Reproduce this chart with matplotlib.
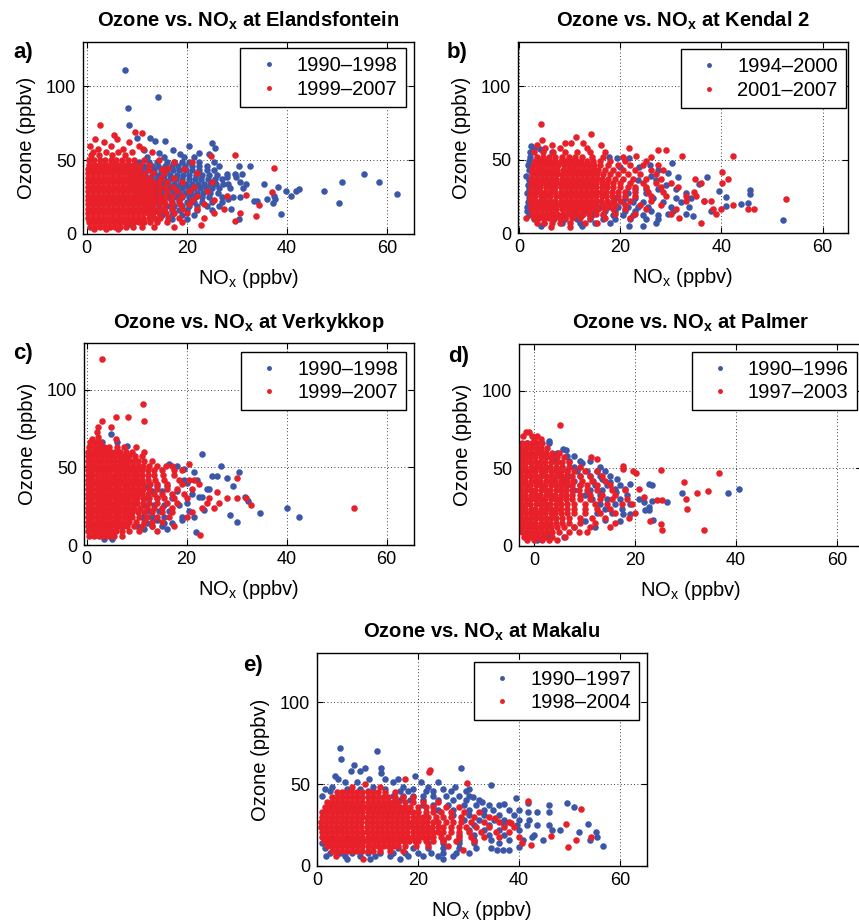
import numpy as np
import matplotlib
matplotlib.use("Agg")
import matplotlib.pyplot as plt

plt.rcParams['font.family'] = ['Liberation Sans', 'DejaVu Sans']
plt.rcParams['mathtext.fontset'] = 'custom'
plt.rcParams['mathtext.rm'] = 'Liberation Sans'
plt.rcParams['mathtext.bf'] = 'Liberation Sans:bold'

BLUE = '#3c57a8'
RED = '#e8202a'

STATIONS = ['Elandsfontein', 'Kendal 2', 'Verkykkop', 'Palmer', 'Makalu']
TAGS = ['a)', 'b)', 'c)', 'd)', 'e)']
PERIODS = [('1990–1998', '1999–2007'),
           ('1994–2000', '2001–2007'),
           ('1990–1998', '1999–2007'),
           ('1990–1996', '1997–2003'),
           ('1990–1997', '1998–2004')]
X_TICKS = [0, 20, 40, 60]
Y_TICKS = [0, 50, 100]

# every series: rows of (ozone ppbv, [NOx ppbv of the points at that ozone level])
A_EARLY = [
    (111.0, [7.7]), (92.6, [14.2]), (85.5, [8.2]), (73.8, [8.5]),
    (65.0, [10.0, 12.6]), (63.0, [13.6, 15.6]), (61.3, [25.0]), (59.7, [20.4]),
    (58.4, [25.6]), (57.0, [11.5, 17.2]), (55.0, [14.5, 22.5]), (54.0, [18.6, 24.4]),
    (52.0, [12.0, 15.5, 19.5, 21.5]),
    (49.0, [10.5, 12.5, 14.0, 16.0, 17.5, 19.0, 20.5, 22.5, 25.5]),
    (46.0, [10.0, 11.5, 13.0, 14.3, 15.6, 17.0, 18.3, 19.6, 21.0, 22.5, 24.0, 26.5, 30.5, 32.6]),
    (43.0, [9.5, 11.0, 12.3, 13.5, 14.8, 16.0, 17.3, 18.5, 19.8, 21.0, 22.5, 24.0, 25.5]),
    (40.7, [28.1, 29.6, 31.1, 55.4]),
    (40.0, [9.0, 10.4, 11.7, 13.0, 14.2, 15.5, 16.7, 18.0, 19.3, 20.5, 21.8, 23.0, 24.5, 26.0]),
    (38.5, [28.1, 29.9]),
    (37.0, [9.0, 10.3, 11.6, 12.9, 14.1, 15.4, 16.6, 17.9, 19.1, 20.4, 21.6, 22.9, 24.2, 25.6, 27.0]),
    (35.3, [30.6, 50.9, 58.3]),
    (34.0, [9.0, 10.2, 11.4, 12.6, 13.8, 15.0, 16.2, 17.4, 18.6, 19.8, 21.0, 22.2, 23.4, 24.6, 25.8, 27.2]),
    (33.6, [28.3, 31.8, 35.3]), (31.5, [38.1]),
    (31.0, [9.5, 10.7, 11.9, 13.1, 14.3, 15.5, 16.7, 17.9, 19.1, 20.3, 21.5, 22.7, 23.9, 25.1, 26.4, 28.6, 31.3]),
    (30.4, [42.4]), (29.1, [39.8, 41.8, 47.4]),
    (28.0, [10.0, 11.2, 12.4, 13.6, 14.8, 16.0, 17.2, 18.4, 19.6, 20.8, 22.0, 23.3, 24.6, 26.3]),
    (26.8, [62.0]), (26.0, [37.4, 40.8]),
    (25.0, [10.0, 11.3, 12.6, 13.9, 15.2, 16.5, 17.8, 19.1, 20.4, 21.7, 23.0, 24.5, 27.0, 29.3, 30.7]),
    (23.5, [28.3, 36.0, 37.5]), (22.1, [33.3, 34.0]),
    (22.0, [11.0, 12.5, 14.0, 15.5, 17.0, 18.5, 20.0, 21.5, 23.0, 25.0, 27.0]),
    (20.8, [37.1, 50.4]),
    (19.0, [11.5, 13.0, 14.5, 16.0, 17.5, 19.0, 20.5, 22.0, 24.0, 26.5]),
    (17.0, [28.8]),
    (16.0, [12.5, 14.0, 15.5, 17.0, 18.5, 20.0, 22.0, 25.0]),
    (13.6, [38.8]), (13.0, [13.0, 15.0, 17.0, 19.0, 21.5]),
    (10.0, [14.0, 17.0, 20.0, 30.5]), (6.5, [8.5]),
]
A_LATE = [
    (73.6, [2.7]), (69.4, [9.6]), (68.7, [11.1]), (67.0, [5.5]), (64.2, [1.7, 6.1]),
    (62.0, [3.4, 8.5]), (59.7, [0.6, 4.8, 10.5]), (57.5, [2.3, 7.2, 11.2]),
    (55.5, [1.2, 3.8, 6.3, 9.0, 13.0]), (53.2, [0.8, 2.4, 5.1, 7.6, 29.7]), (52.6, [24.8]),
    (50.0, [0.5, 1.5, 2.6, 3.7, 4.8, 5.9, 7.0, 8.2, 9.5, 11.5, 14.5]),
    (48.5, [17.5, 21.0]),
    (47.0, [0.4, 1.4, 2.4, 3.4, 4.4, 5.4, 6.4, 7.4, 8.4, 9.5, 10.7, 12.5]),
    (44.5, [16.2, 37.4]),
    (44.0, [0.3, 1.3, 2.3, 3.3, 4.3, 5.3, 6.3, 7.3, 8.3, 9.3, 10.5, 12.5, 15.0, 19.5]),
    (41.0, [0.3, 1.2, 2.2, 3.3, 4.2, 5.2, 6.3, 7.2, 8.2, 9.3, 10.2, 11.4, 13.2, 15.5, 22.0]),
    (38.0, [0.3, 1.3, 2.3, 3.2, 4.3, 5.3, 6.2, 7.3, 8.3, 9.2, 10.3, 11.3, 12.5, 14.8, 17.5]),
    (35.0, [0.3, 1.2, 2.2, 3.3, 4.2, 5.3, 6.3, 7.2, 8.3, 9.3, 10.2, 11.3, 12.3, 13.3, 14.5, 16.0, 19.0, 25.0]),
    (32.0, [0.3, 1.3, 2.2, 3.2, 4.3, 5.2, 6.2, 7.3, 8.2, 9.3, 10.3, 11.2, 12.3, 13.3, 14.4, 15.6, 17.2, 21.5]),
    (29.0, [0.3, 1.2, 2.3, 3.3, 4.2, 5.3, 6.3, 7.2, 8.3, 9.2, 10.3, 11.3, 12.2, 13.3, 14.5, 16.0, 18.0, 20.5, 24.0]),
    (28.6, [36.9]), (26.2, [31.8]),
    (26.0, [0.3, 1.3, 2.3, 3.2, 4.3, 5.2, 6.3, 7.3, 8.2, 9.3, 10.2, 11.3, 12.3, 13.3, 14.4, 15.6, 17.0, 19.0, 22.0, 28.0]),
    (23.0, [0.3, 1.2, 2.2, 3.3, 4.3, 5.3, 6.2, 7.3, 8.3, 9.2, 10.3, 11.2, 12.3, 13.2, 14.4, 15.5, 16.8, 18.5, 21.0, 25.5]),
    (20.0, [0.3, 1.3, 2.3, 3.3, 4.2, 5.2, 6.3, 7.2, 8.3, 9.3, 10.2, 11.3, 12.3, 13.3, 14.4, 15.6, 17.0, 18.6, 20.5, 23.5]),
    (19.9, [34.3]),
    (17.0, [0.3, 1.2, 2.3, 3.2, 4.3, 5.3, 6.2, 7.3, 8.2, 9.3, 10.3, 11.2, 12.2, 13.3, 14.4, 15.5, 17.0, 19.0, 22.0, 27.5]),
    (14.0, [0.3, 1.3, 2.2, 3.3, 4.2, 5.3, 6.3, 7.2, 8.3, 9.2, 10.3, 11.3, 12.3, 13.3, 14.5, 15.8, 17.5, 20.0, 25.5, 30.7]),
    (12.3, [33.8]),
    (11.0, [0.3, 1.2, 2.3, 3.3, 4.3, 5.2, 6.3, 7.3, 8.2, 9.3, 10.2, 11.3, 12.4, 13.5, 14.6, 16.2, 18.5, 23.5]),
    (8.5, [29.6]),
    (8.0, [0.4, 1.4, 2.4, 3.4, 4.4, 5.4, 6.4, 7.4, 8.4, 9.4, 10.5, 11.5, 12.6, 14.0, 16.0, 19.0]),
    (6.3, [22.8]),
    (5.0, [0.6, 1.6, 2.6, 3.6, 4.6, 5.6, 6.6, 7.8, 9.2, 11.0, 13.5, 17.5]),
    (3.5, [1.5, 3.8, 6.2]),
]

B_EARLY = [
    (59.0, [2.4]), (57.0, [3.0, 4.2]), (55.0, [2.1, 6.5]), (52.0, [2.2, 17.8]),
    (51.0, [19.4, 21.8]), (49.0, [2.0]), (47.5, [30.3]), (46.0, [1.8, 25.8]),
    (45.0, [20.0, 23.8]), (43.0, [2.0, 27.5]), (41.0, [29.5]), (39.0, [1.4, 26.0]),
    (38.0, [31.4, 37.2]), (36.0, [2.0, 23.5, 27.0]), (33.6, [35.5]), (33.0, [1.8, 29.0]),
    (30.0, [2.0, 23.0, 25.0, 27.5, 31.0]), (29.3, [45.6]), (28.4, [39.6]),
    (27.0, [1.6, 21.5, 25.0, 33.0]), (26.4, [45.6]), (24.8, [40.9]),
    (24.0, [2.0, 19.0, 21.0, 23.0, 26.5, 31.0, 34.0]), (21.8, [36.5]),
    (21.0, [1.8, 18.5, 20.5, 22.5, 24.5, 28.5, 32.0]), (20.7, [45.2]), (19.5, [43.8]),
    (18.7, [40.8]),
    (18.0, [1.5, 16.0, 17.5, 19.5, 21.5, 23.5, 25.5, 30.0, 33.5]),
    (15.0, [1.5, 11.0, 13.0, 15.0, 17.0, 19.0, 21.0, 23.0, 26.0, 30.5, 38.0]),
    (13.0, [29.5, 33.0]),
    (12.0, [2.0, 6.0, 8.5, 10.5, 12.5, 14.5, 16.5, 18.5, 20.5, 22.5, 24.5, 27.5]),
    (11.7, [34.4]),
    (9.5, [3.0, 7.0, 9.0, 11.5, 14.0, 16.5, 19.0, 22.0, 25.0, 27.5]),
    (8.6, [52.2]), (7.0, [5.0, 8.5, 12.0, 15.0, 18.0, 27.0]),
    (4.5, [4.4, 12.5, 21.8, 24.5]),
]
B_LATE = [
    (74.3, [4.4]), (67.6, [14.2]), (65.5, [11.3]), (63.5, [4.6]),
    (61.0, [9.0, 10.2, 12.6]), (60.0, [3.6, 6.5, 16.2]), (58.0, [5.2, 8.0, 13.5, 21.7]),
    (56.5, [27.5, 29.0]), (55.0, [3.0, 4.8, 6.8, 9.0, 11.5, 14.0, 17.0]),
    (52.7, [23.2, 32.2, 42.3]),
    (52.0, [3.5, 4.8, 6.0, 7.2, 8.5, 9.8, 11.0, 12.5, 14.5, 16.5, 20.5, 26.0]),
    (49.0, [3.2, 4.2, 5.2, 6.2, 7.2, 8.2, 9.2, 10.2, 11.2, 12.3, 13.4, 14.6, 16.0, 18.0, 21.0, 25.0]),
    (46.0, [2.8, 3.8, 4.8, 5.8, 6.8, 7.8, 8.8, 9.8, 10.8, 11.8, 12.8, 13.8, 14.8, 16.0, 17.5, 19.5, 22.0, 24.5, 27.5]),
    (43.0, [2.6, 3.6, 4.6, 5.6, 6.6, 7.6, 8.6, 9.6, 10.6, 11.6, 12.6, 13.6, 14.6, 15.6, 17.0, 18.5, 20.5, 23.0, 26.0, 28.5]),
    (41.2, [40.2]),
    (40.0, [2.5, 3.5, 4.5, 5.5, 6.5, 7.5, 8.5, 9.5, 10.5, 11.5, 12.5, 13.5, 14.5, 15.5, 16.5, 18.0, 19.5, 21.5, 24.0, 27.0]),
    (37.0, [2.4, 3.4, 4.4, 5.4, 6.4, 7.4, 8.4, 9.4, 10.4, 11.4, 12.4, 13.4, 14.4, 15.4, 16.4, 17.5, 19.0, 20.5, 22.5, 25.0, 28.0, 34.8, 41.3]),
    (34.0, [2.3, 3.3, 4.3, 5.3, 6.3, 7.3, 8.3, 9.3, 10.3, 11.3, 12.3, 13.3, 14.3, 15.3, 16.3, 17.3, 18.5, 20.0, 22.0, 24.5, 27.0, 30.0, 36.0, 40.2]),
    (31.0, [2.3, 3.3, 4.2, 5.3, 6.3, 7.2, 8.3, 9.3, 10.2, 11.3, 12.3, 13.2, 14.3, 15.3, 16.3, 17.3, 18.5, 20.0, 21.5, 23.0, 25.0, 28.0, 31.5]),
    (28.0, [2.2, 3.2, 4.2, 5.2, 6.2, 7.2, 8.2, 9.2, 10.2, 11.2, 12.2, 13.2, 14.2, 15.2, 16.2, 17.2, 18.4, 19.6, 21.0, 23.0, 25.5, 28.5, 34.5]),
    (25.0, [2.2, 3.2, 4.3, 5.2, 6.2, 7.3, 8.2, 9.2, 10.3, 11.2, 12.2, 13.3, 14.2, 15.2, 16.3, 17.2, 18.4, 19.6, 21.0, 23.0, 26.0, 29.0, 33.0, 35.0]),
    (22.0, [2.2, 3.2, 4.2, 5.2, 6.2, 7.2, 8.2, 9.2, 10.2, 11.2, 12.2, 13.2, 14.2, 15.2, 16.2, 17.4, 18.6, 20.0, 22.0, 26.0, 33.0, 36.5, 38.0]),
    (19.0, [2.3, 3.3, 4.3, 5.3, 6.3, 7.3, 8.3, 9.3, 10.3, 11.3, 12.3, 13.3, 14.3, 15.3, 16.5, 17.8, 19.0, 21.0, 24.0, 28.0, 42.3]),
    (16.0, [2.4, 3.4, 4.4, 5.4, 6.4, 7.4, 8.4, 9.4, 10.4, 11.4, 12.4, 13.4, 14.4, 15.6, 17.0, 18.5, 21.0, 25.0, 31.0, 38.3, 40.0, 45.3, 46.5]),
    (13.0, [2.6, 3.6, 4.6, 5.6, 6.6, 7.6, 8.6, 9.6, 10.6, 11.6, 12.6, 13.8, 15.2, 16.5, 19.0, 23.0, 30.0, 39.0]),
    (10.0, [1.3, 3.0, 4.0, 5.0, 6.0, 7.0, 8.0, 9.0, 10.5, 12.0, 14.0, 17.0, 22.0, 31.6]),
    (23.2, [52.7]), (7.0, [3.5, 5.0, 6.5, 8.0, 10.0, 13.0, 15.5, 35.9]),
    (4.0, [6.4, 10.0]),
]

C_EARLY = [
    (71.4, [4.9]), (66.0, [3.0, 6.0]), (64.0, [8.0]), (58.5, [23.1]), (52.0, [16.5]),
    (50.8, [18.0, 26.8]), (49.0, [19.5]), (47.0, [21.5]), (46.7, [30.5]),
    (44.3, [25.1, 26.0]), (43.4, [28.1]), (42.0, [19.5, 22.0]), (40.0, [20.0]),
    (38.0, [12.0, 14.0, 16.0, 29.3]), (36.0, [24.0, 24.5]), (35.0, [11.0, 13.0, 15.0, 18.0]),
    (33.0, [21.0]), (31.0, [22.5, 23.0]), (30.8, [31.7]), (30.0, [12.0, 14.0, 17.0]),
    (28.2, [32.3]), (27.0, [20.0]), (26.0, [11.5, 13.5, 15.5, 18.5]), (24.1, [40.1]),
    (22.5, [23.5]), (22.0, [12.5, 14.5, 16.5, 20.5]), (20.4, [34.7]), (19.1, [28.7]),
    (18.3, [42.5]), (18.0, [11.0, 13.0, 15.5, 19.0, 21.5]), (16.0, [14.0, 19.0]),
    (14.6, [30.0]), (14.0, [12.0, 15.5, 17.0]), (12.0, [10.0, 13.0, 15.0]),
    (10.0, [11.5, 16.0]), (8.4, [21.8]), (4.0, [3.4, 5.0]),
]
C_LATE = [
    (119.6, [3.0]), (91.0, [11.3]), (82.4, [5.9, 8.2]), (79.6, [3.0, 11.5]),
    (75.9, [2.2, 4.9]), (73.0, [2.1]), (69.5, [2.3]), (68.0, [1.0, 5.8]),
    (66.0, [0.6, 1.6, 2.6]),
    (63.0, [0.5, 1.5, 2.5, 3.5, 4.5, 6.0, 7.5, 9.8]),
    (60.0, [0.3, 1.2, 2.1, 3.0, 3.9, 4.8, 5.7, 6.7, 7.8, 9.0, 11.5]),
    (57.0, [0.3, 1.2, 2.1, 3.0, 3.9, 4.8, 5.7, 6.6, 7.5, 8.5, 9.6, 11.0]),
    (54.0, [0.2, 1.0, 2.0, 2.9, 3.9, 4.7, 5.6, 6.6, 7.4, 8.3, 9.3, 10.3, 11.5, 13.0]),
    (52.0, [20.5]),
    (51.0, [0.2, 1.1, 1.9, 2.9, 3.8, 4.8, 5.6, 6.5, 7.5, 8.3, 9.2, 10.2, 11.3, 12.5, 14.0, 15.8, 17.0]),
    (48.0, [0.2, 1.0, 2.0, 2.9, 3.8, 4.7, 5.7, 6.5, 7.4, 8.4, 9.2, 10.1, 11.0, 12.2, 13.5, 15.0, 17.5, 19.0]),
    (45.0, [0.2, 1.1, 2.0, 3.0, 3.8, 4.7, 5.6, 6.6, 7.4, 8.3, 9.3, 10.1, 11.0, 12.2, 13.5, 15.2, 17.5]),
    (43.4, [30.1]),
    (42.0, [0.2, 1.1, 2.1, 2.9, 3.8, 4.8, 5.6, 6.5, 7.5, 8.3, 9.2, 10.1, 11.0, 12.3, 13.7, 15.5, 18.5, 20.5, 21.5]),
    (39.0, [0.2, 1.0, 2.0, 2.9, 3.9, 4.7, 5.6, 6.5, 7.4, 8.3, 9.2, 10.2, 11.3, 12.6, 14.0, 16.0, 19.0, 22.5]),
    (36.0, [0.2, 1.1, 2.0, 3.0, 3.8, 4.7, 5.7, 6.5, 7.4, 8.4, 9.2, 10.2, 11.3, 12.5, 14.0, 16.0, 18.0, 21.0]),
    (33.8, [26.1]),
    (33.0, [0.2, 1.1, 2.0, 2.9, 3.8, 4.8, 5.6, 6.5, 7.5, 8.3, 9.2, 10.0, 11.0, 12.2, 13.5, 15.0, 17.0, 19.5]),
    (30.5, [28.0, 30.1, 31.8]),
    (30.0, [0.2, 1.0, 2.0, 2.9, 3.9, 4.7, 5.6, 6.6, 7.4, 8.3, 9.2, 10.0, 11.2, 12.5, 14.0, 15.5, 17.5, 20.0, 24.5]),
    (27.0, [0.2, 1.1, 2.0, 3.0, 3.8, 4.7, 5.6, 6.5, 7.4, 8.3, 9.2, 10.0, 11.2, 12.5, 14.0, 16.0, 18.0, 24.0, 26.5]),
    (26.0, [32.9]),
    (24.0, [0.2, 1.1, 2.1, 2.9, 3.8, 4.8, 5.6, 6.5, 7.4, 8.5, 9.5, 10.6, 12.0, 13.5, 15.0, 17.0, 23.0, 25.5, 53.5]),
    (21.0, [0.2, 1.0, 2.0, 2.9, 3.9, 4.7, 5.6, 6.5, 7.4, 8.2, 9.0, 10.2, 11.5, 13.0, 15.0, 17.0, 21.0]),
    (18.0, [0.2, 1.1, 2.0, 3.0, 3.8, 4.7, 5.7, 6.5, 7.4, 8.2, 9.0, 10.5, 12.0, 14.0, 16.5, 20.0]),
    (15.0, [0.2, 1.1, 2.0, 2.9, 3.8, 4.8, 5.6, 6.5, 7.5, 8.5, 9.8, 11.5, 13.0, 15.0]),
    (12.0, [0.2, 1.0, 2.0, 2.9, 3.9, 4.7, 5.6, 6.5, 7.2, 8.0, 9.5, 11.0, 13.0, 17.5]),
    (9.0, [0.3, 1.2, 2.1, 3.0, 3.9, 4.8, 5.8, 7.0, 8.5, 10.5, 14.0]),
    (6.5, [22.7]),
    (6.0, [0.5, 1.5, 2.5, 3.5, 4.5, 5.5, 7.0]),
]

D_EARLY = [
    (67.4, [3.0]), (66.0, [-1.5, 3.0]), (62.7, [5.7]), (62.0, [1.0, 6.3]),
    (61.0, [-2.7]), (60.0, [2.0, 4.5]), (58.0, [3.5, 6.5, 8.0]),
    (55.0, [4.0, 7.0, 9.0, 11.0]), (53.7, [9.5]), (51.0, [5.5, 8.0, 13.0]),
    (48.0, [4.5, 6.5, 8.5, 10.5, 12.5, 14.0]), (45.0, [5.0, 7.0, 9.0, 11.0, 13.0, 15.0]),
    (43.0, [13.4, 16.5]), (42.0, [6.0, 8.0, 11.7]), (41.0, [15.0]),
    (39.9, [19.0, 22.8]), (39.2, [23.3]), (39.0, [6.5, 9.0, 12.0, 14.5, 17.0]),
    (37.0, [16.0, 18.0]), (36.7, [40.7]), (36.0, [8.0, 11.0, 13.5]),
    (34.5, [16.3]), (33.9, [29.4, 38.4]), (33.0, [10.0, 13.0, 18.5]),
    (30.3, [20.8]), (30.0, [11.5, 14.5, 17.0]), (29.0, [23.3]), (28.6, [21.8]),
    (28.4, [26.4]), (27.0, [13.0, 16.0, 19.0]), (25.0, [22.8]), (24.0, [14.0, 17.5]),
    (23.0, [22.0, 22.8]), (21.0, [12.5, 15.5]), (20.7, [17.7, 19.0]),
    (17.0, [14.0, 23.6]), (16.0, [10.0, 17.0]), (12.0, [8.0, 12.0]),
    (6.0, [3.0, 6.0]), (4.0, [0.5]),
]
D_LATE = [
    (77.8, [5.2]), (73.5, [-1.7, -1.0]), (70.5, [-2.3, -0.5, 0.5]), (68.6, [0.0, 1.3]),
    (66.0, [-2.5, -1.5, -0.5, 0.5, 1.5]),
    (63.0, [-2.6, -1.6, -0.6, 0.4, 1.4, 2.5]),
    (60.0, [-2.7, -1.7, -0.7, 0.3, 1.3, 2.3, 3.5, 5.0]),
    (57.4, [11.2]),
    (57.0, [-2.7, -1.8, -0.8, 0.2, 1.3, 2.3, 3.3, 4.5, 6.0]),
    (55.9, [12.4]),
    (54.0, [-2.7, -1.7, -0.7, 0.3, 1.2, 2.2, 3.3, 4.5, 5.5, 7.0]),
    (51.4, [17.7]),
    (51.0, [-2.7, -1.8, -0.7, 0.3, 1.3, 2.3, 3.2, 4.3, 5.5, 7.0, 9.0]),
    (49.5, [17.6]), (48.6, [25.1]),
    (48.0, [-2.7, -1.7, -0.8, 0.2, 1.3, 2.2, 3.3, 4.3, 5.4, 6.6, 8.0, 10.0, 12.5, 19.6]),
    (47.1, [20.1, 36.6]),
    (45.0, [-2.7, -1.7, -0.7, 0.3, 1.3, 2.3, 3.3, 4.3, 5.3, 6.4, 7.6, 9.0, 11.0, 13.5]),
    (42.0, [-2.7, -1.8, -0.7, 0.3, 1.2, 2.3, 3.3, 4.2, 5.3, 6.5, 7.8, 9.5, 11.5, 14.0]),
    (41.4, [29.7]),
    (39.0, [-2.7, -1.7, -0.8, 0.3, 1.3, 2.2, 3.3, 4.3, 5.3, 6.3, 7.5, 9.0, 10.5, 12.5, 15.0]),
    (36.9, [20.8]),
    (36.0, [-2.7, -1.7, -0.7, 0.2, 1.3, 2.3, 3.2, 4.3, 5.3, 6.3, 7.5, 8.8, 10.5, 12.5, 15.5, 18.0]),
    (35.2, [34.5]), (34.1, [32.2]),
    (33.0, [-2.7, -1.8, -0.7, 0.3, 1.2, 2.3, 3.3, 4.2, 5.3, 6.3, 7.5, 9.0, 11.0, 13.5, 16.0]),
    (31.3, [21.8]), (30.3, [30.2]),
    (30.0, [-2.7, -1.7, -0.7, 0.3, 1.3, 2.2, 3.3, 4.3, 5.2, 6.3, 7.5, 9.0, 11.0, 13.0, 15.5, 18.5]),
    (29.3, [24.3, 25.4]),
    (27.0, [-2.7, -1.7, -0.8, 0.3, 1.3, 2.3, 3.2, 4.3, 5.3, 6.5, 8.0, 10.0, 12.0, 14.5, 17.5, 19.5]),
    (24.0, [-2.7, -1.8, -0.7, 0.2, 1.3, 2.3, 3.3, 4.3, 5.3, 6.5, 8.0, 10.0, 12.5, 15.0, 30.4]),
    (21.0, [-2.7, -1.7, -0.7, 0.3, 1.2, 2.2, 3.3, 4.2, 5.3, 6.6, 8.0, 10.0, 13.0, 16.0, 20.0]),
    (18.0, [-2.7, -1.7, -0.7, 0.3, 1.3, 2.3, 3.3, 4.3, 5.5, 7.0, 9.0, 11.5, 14.0, 18.8]),
    (15.8, [22.9]),
    (15.0, [-2.7, -1.8, -0.8, 0.2, 1.3, 2.3, 3.2, 4.3, 5.5, 7.0, 9.0, 12.0, 16.1]),
    (14.3, [25.1]),
    (12.0, [-2.7, -1.7, -0.7, 0.3, 1.3, 2.3, 3.3, 4.5, 6.0, 8.0, 11.0, 15.0]),
    (10.0, [25.3, 33.7]),
    (9.0, [-2.5, -1.5, -0.5, 0.5, 1.5, 2.5, 3.5, 5.0, 7.0, 8.9, 10.4]),
    (6.0, [-2.0, -1.0, 0.0, 1.0, 2.0, 3.5, 6.2]),
    (4.0, [-1.5, 0.0, 1.5, 3.0, 4.5]),
]

E_EARLY = [
    (72.3, [4.5]), (70.3, [11.8]), (65.4, [4.7]), (61.7, [7.3]), (60.1, [28.5]),
    (59.7, [9.5, 12.6]), (58.0, [6.8, 8.5]), (56.8, [12.6]), (55.0, [3.5, 19.4]),
    (53.0, [4.2, 10.2, 13.5, 16.0]), (51.0, [5.5, 8.0, 15.0, 20.5, 24.0]),
    (49.5, [34.4]), (48.5, [3.0, 11.0, 17.0, 22.0, 27.4]),
    (47.0, [1.5, 6.0, 8.5, 13.5, 19.0, 25.0, 30.0]),
    (45.5, [2.5, 10.0, 16.5, 18.0, 21.5, 23.0, 26.5, 29.5]),
    (43.0, [1.0, 15.0, 17.0, 19.0, 21.0, 23.0, 25.5, 28.0, 30.0]),
    (42.0, [30.9]), (41.3, [39.4]),
    (40.0, [16.5, 18.5, 21.0, 24.0, 27.0, 29.5, 32.0]),
    (39.3, [32.7]), (38.7, [41.7, 49.4]), (37.9, [37.0]),
    (37.0, [21.0, 23.0, 26.0, 29.0, 31.5, 34.0, 36.0, 46.0]),
    (35.8, [50.9]), (34.2, [34.9]),
    (34.0, [24.0, 27.0, 30.0, 33.0, 38.0, 40.0]),
    (32.8, [41.7, 43.5, 45.9]),
    (31.0, [27.0, 30.0, 33.0, 36.0, 39.0]),
    (28.0, [29.0, 32.0, 35.0, 37.0, 40.0, 42.0]),
    (25.5, [53.6]),
    (25.0, [31.0, 34.0, 37.0, 39.5, 41.5, 43.5, 46.0]),
    (22.0, [30.0, 33.0, 36.0, 40.0, 46.5, 48.1]),
    (21.0, [55.3]), (20.8, [51.9]),
    (19.0, [28.0, 31.0, 34.0, 37.0, 43.0]),
    (17.9, [42.5, 55.4]),
    (16.0, [25.0, 28.0, 31.0, 34.5, 38.0, 40.8, 44.8, 54.1]),
    (14.0, [1.0, 22.0, 25.0, 28.0, 31.0, 36.0]),
    (12.2, [56.6]), (11.4, [39.9]),
    (11.0, [1.5, 16.0, 19.0, 22.0, 25.0, 28.0, 31.5, 34.5]),
    (10.0, [35.6, 36.9, 37.9]),
    (8.0, [2.5, 4.5, 7.0, 10.0, 12.5, 15.0, 17.5, 20.0, 22.5, 25.0, 27.5, 30.0]),
    (6.0, [1.8, 5.5, 8.5, 11.5, 14.5, 18.0, 21.0, 24.0, 27.0]),
    (4.0, [6.0, 10.5, 16.5, 25.0]),
]
E_LATE = [
    (58.7, [22.3]), (57.6, [22.2]), (53.0, [17.5]), (50.5, [29.7]), (50.0, [9.5]),
    (48.5, [7.0, 12.5]),
    (45.0, [4.0, 5.0, 6.0, 7.0, 8.0, 9.0, 10.0, 11.0, 12.0, 13.5, 15.5]),
    (42.0, [3.0, 4.0, 5.0, 6.0, 7.0, 8.0, 9.0, 10.0, 11.0, 12.0, 13.0, 14.0, 15.5, 17.0, 19.0]),
    (39.5, [41.7]),
    (39.0, [2.0, 3.0, 4.0, 5.0, 6.0, 7.0, 8.0, 9.0, 10.0, 11.0, 12.0, 13.0, 14.0, 15.0, 16.0, 17.5, 19.0, 21.0, 24.0]),
    (36.0, [1.5, 2.5, 3.5, 4.5, 5.5, 6.5, 7.5, 8.5, 9.5, 10.5, 11.5, 12.5, 13.5, 14.5, 15.5, 16.5, 17.5, 18.5, 20.0, 21.5, 23.0, 25.5, 28.0]),
    (34.6, [52.3]),
    (33.0, [1.0, 2.0, 3.0, 4.0, 5.0, 6.0, 7.0, 8.0, 9.0, 10.0, 11.0, 12.0, 13.0, 14.0, 15.0, 16.0, 17.0, 18.0, 19.0, 20.0, 21.5, 23.0, 24.5, 26.5, 29.0, 32.0]),
    (30.0, [0.9, 1.9, 2.9, 3.9, 4.9, 5.9, 6.9, 7.9, 8.9, 9.9, 10.9, 11.9, 12.9, 13.9, 14.9, 15.9, 16.9, 17.9, 18.9, 19.9, 21.0, 22.0, 23.5, 25.0, 26.5, 28.5, 31.0, 34.0]),
    (29.1, [35.2]),
    (27.0, [0.8, 1.8, 2.8, 3.8, 4.8, 5.8, 6.8, 7.8, 8.8, 9.8, 10.8, 11.8, 12.8, 13.8, 14.8, 15.8, 16.8, 17.8, 18.8, 19.8, 20.8, 21.8, 22.9, 24.0, 25.5, 27.0, 28.5, 30.5, 33.0, 36.0, 38.0]),
    (26.1, [38.4]), (25.5, [49.3]),
    (24.0, [0.8, 1.8, 2.8, 3.8, 4.8, 5.8, 6.8, 7.8, 8.8, 9.8, 10.8, 11.8, 12.8, 13.8, 14.8, 15.8, 16.8, 17.8, 18.8, 19.8, 20.8, 21.8, 22.8, 23.9, 25.0, 26.5, 28.0, 29.5, 31.5, 34.0, 37.0, 39.0]),
    (21.0, [0.9, 1.9, 2.9, 3.9, 4.9, 5.9, 6.9, 7.9, 8.9, 9.9, 10.9, 11.9, 12.9, 13.9, 14.9, 15.9, 16.9, 17.9, 18.9, 19.9, 20.9, 21.9, 23.0, 24.0, 25.0, 26.5, 28.0, 30.0, 32.5, 35.5, 38.0]),
    (18.3, [46.3]), (17.9, [40.0, 54.2]),
    (18.0, [1.0, 2.0, 3.0, 4.0, 5.0, 6.0, 7.0, 8.0, 9.0, 10.0, 11.0, 12.0, 13.0, 14.0, 15.0, 16.0, 17.0, 18.0, 19.0, 20.0, 21.0, 22.0, 23.0, 24.5, 26.0, 28.0, 30.5, 33.0, 36.0]),
    (15.9, [51.2]),
    (15.0, [1.3, 2.3, 3.3, 4.3, 5.3, 6.3, 7.3, 8.3, 9.3, 10.3, 11.3, 12.3, 13.3, 14.3, 15.3, 16.3, 17.3, 18.3, 19.3, 20.0, 21.5, 23.0, 25.0, 27.5, 31.0]),
    (13.8, [40.5]), (12.8, [42.4]),
    (12.0, [2.0, 3.0, 4.0, 5.0, 6.0, 7.0, 8.0, 9.0, 10.0, 11.0, 12.0, 13.0, 14.0, 15.0, 16.0, 17.5, 19.5, 22.0, 26.0]),
    (11.4, [49.6]),
    (9.8, [28.9]),
    (9.0, [3.0, 4.0, 5.0, 6.0, 7.0, 8.0, 9.0, 10.0, 11.0, 12.5, 14.5, 17.0]),
    (6.1, [3.8]), (4.1, [9.1]),
]

SERIES = [(A_EARLY, A_LATE), (B_EARLY, B_LATE), (C_EARLY, C_LATE),
          (D_EARLY, D_LATE), (E_EARLY, E_LATE)]
XLIMS = [(-0.7, 65.3), (-0.2, 65.0), (-0.5, 65.5), (-3.0, 65.0), (0.0, 65.3)]

# axes boxes in pixels: left, right, top, bottom
BOXES = [(83, 414, 42, 234), (518, 848, 42, 233), (84, 414, 343, 545),
         (519, 862, 344, 546), (317, 647, 653, 866)]
LEG_ANCHOR = [(0.975, 0.967), (0.993, 0.962), (0.976, 0.957), (0.985, 0.962), (0.977, 0.959)]
TAG_POS = [(13, 42), (447, 42), (13, 343), (448, 346), (243, 655)]

W, H = 859, 924


def unpack(rows):
    x, y = [], []
    for o3, nox in rows:
        x += nox
        y += [o3] * len(nox)
    return np.array(x), np.array(y)


fig = plt.figure(figsize=(W / 100, H / 100), dpi=100)

for i in range(5):
    l, r, t, b = BOXES[i]
    ax = fig.add_axes([l / W, 1 - b / H, (r - l) / W, (b - t) / H])
    early, late = SERIES[i]
    xe, ye = unpack(early)
    xl, yl = unpack(late)
    ax.plot(xe, ye, linestyle='none', marker='o', ms=4.7, mew=0, color=BLUE,
            label=PERIODS[i][0])
    ax.plot(xl, yl, linestyle='none', marker='o', ms=4.7, mew=0, color=RED,
            label=PERIODS[i][1])

    ax.set_xlim(*XLIMS[i])
    ax.set_ylim(0, 130)
    ax.set_xticks(X_TICKS)
    ax.set_yticks(Y_TICKS)
    ax.set_axisbelow(True)
    ax.grid(True, linestyle=(0, (1, 3)), color='black', linewidth=0.6)
    ax.tick_params(direction='in', top=True, right=True, length=4, width=0.8,
                   labelsize=13)
    ax.tick_params(axis='x', pad=4)
    ax.tick_params(axis='y', pad=5)
    for s in ax.spines.values():
        s.set_linewidth(1.0)

    ax.set_title(r'Ozone vs. NO$_\mathbf{x}$ at ' + STATIONS[i],
                 fontsize=14.5, fontweight='bold', pad=11)
    ax.set_xlabel(r'NO$_\mathrm{x}$ (ppbv)', fontsize=14.5, labelpad=7.5)
    ax.set_ylabel('Ozone (ppbv)', fontsize=14.5, labelpad=7)

    leg = ax.legend(loc='upper right', bbox_to_anchor=LEG_ANCHOR[i], borderaxespad=0,
                    fancybox=False, edgecolor='black', framealpha=1, fontsize=14.5,
                    handlelength=2.0, handletextpad=0.4, borderpad=0.4,
                    labelspacing=0.22, markerscale=0.75)
    leg.get_frame().set_linewidth(1.0)

    tx, ty = TAG_POS[i]
    fig.text(tx / W, 1 - ty / H, TAGS[i], fontsize=16, fontweight='bold',
             ha='left', va='top')

fig.savefig('out.png', dpi=100)
